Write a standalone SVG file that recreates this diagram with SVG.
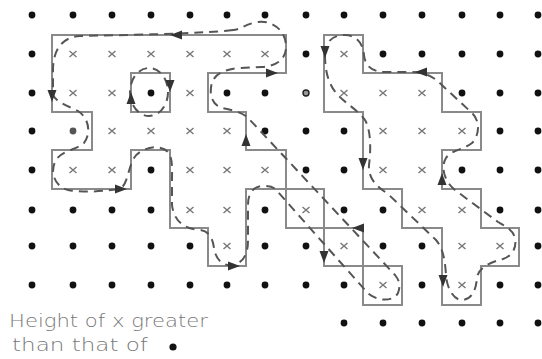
<svg xmlns="http://www.w3.org/2000/svg" width="542" height="359" viewBox="0 0 542 359">
<defs>
<style>
.d{fill:#111}
.g{fill:#555}
.x{stroke:#777;stroke-width:1.4;fill:none}
.o{fill:none;stroke:#8a8a8a;stroke-width:2;stroke-linejoin:miter}
.c{fill:none;stroke:#555;stroke-width:2;stroke-dasharray:9 6}
.ah{fill:#333}
.t{font-family:'DejaVu Sans','Liberation Sans',sans-serif;font-size:18px;fill:#777;font-weight:200}
</style>
<path id="a" d="M0,0 L-12,-4.5 L-12,4.5 Z"/>
<path id="xm" d="M-3.5,-3 L3.5,3 M-3.5,3 L3.5,-3"/>
<circle id="dt" r="3.4"/>
</defs>
<rect width="542" height="359" fill="#fff"/>

<g id="grid">
<!-- row 0 -->
<g class="d">
<use href="#dt" x="32" y="15"/><use href="#dt" x="73" y="15"/><use href="#dt" x="112" y="15"/><use href="#dt" x="151" y="15"/><use href="#dt" x="190" y="15"/><use href="#dt" x="227" y="15"/><use href="#dt" x="265" y="15"/><use href="#dt" x="306" y="15"/><use href="#dt" x="344" y="15"/><use href="#dt" x="383" y="15"/><use href="#dt" x="422" y="15"/><use href="#dt" x="462" y="15"/><use href="#dt" x="500" y="15"/><use href="#dt" x="538" y="15"/>
<!-- row 1 -->
<use href="#dt" x="32" y="54"/><use href="#dt" x="306" y="54"/><use href="#dt" x="383" y="54"/><use href="#dt" x="422" y="54"/><use href="#dt" x="462" y="54"/><use href="#dt" x="500" y="54"/><use href="#dt" x="538" y="54"/>
<!-- row 2 -->
<use href="#dt" x="32" y="93"/><use href="#dt" x="151" y="93"/><use href="#dt" x="227" y="93"/><use href="#dt" x="265" y="93"/><use href="#dt" x="462" y="93"/><use href="#dt" x="500" y="93"/><use href="#dt" x="538" y="93"/>
<!-- row 3 -->
<use href="#dt" x="32" y="131"/><use href="#dt" x="265" y="131"/><use href="#dt" x="306" y="131"/><use href="#dt" x="344" y="131"/><use href="#dt" x="500" y="131"/><use href="#dt" x="538" y="131"/>
<!-- row 4 -->
<use href="#dt" x="32" y="170"/><use href="#dt" x="151" y="170"/><use href="#dt" x="306" y="170"/><use href="#dt" x="344" y="170"/><use href="#dt" x="462" y="170"/><use href="#dt" x="500" y="170"/><use href="#dt" x="538" y="170"/>
<!-- row 5 -->
<use href="#dt" x="32" y="210"/><use href="#dt" x="73" y="210"/><use href="#dt" x="112" y="210"/><use href="#dt" x="151" y="210"/><use href="#dt" x="265" y="210"/><use href="#dt" x="344" y="210"/><use href="#dt" x="383" y="210"/><use href="#dt" x="500" y="210"/><use href="#dt" x="538" y="210"/>
<!-- row 6 -->
<use href="#dt" x="32" y="246"/><use href="#dt" x="73" y="246"/><use href="#dt" x="112" y="246"/><use href="#dt" x="151" y="246"/><use href="#dt" x="190" y="246"/><use href="#dt" x="265" y="246"/><use href="#dt" x="306" y="246"/><use href="#dt" x="383" y="246"/><use href="#dt" x="422" y="246"/><use href="#dt" x="538" y="246"/>
<!-- row 7 -->
<use href="#dt" x="32" y="285"/><use href="#dt" x="73" y="285"/><use href="#dt" x="112" y="285"/><use href="#dt" x="151" y="285"/><use href="#dt" x="190" y="285"/><use href="#dt" x="227" y="285"/><use href="#dt" x="265" y="285"/><use href="#dt" x="306" y="285"/><use href="#dt" x="344" y="285"/><use href="#dt" x="422" y="285"/><use href="#dt" x="500" y="285"/><use href="#dt" x="538" y="285"/>
<!-- row 8 -->
<use href="#dt" x="344" y="323"/><use href="#dt" x="383" y="323"/><use href="#dt" x="422" y="323"/><use href="#dt" x="462" y="323"/><use href="#dt" x="500" y="323"/><use href="#dt" x="538" y="323"/>
</g>
<use href="#dt" class="g" x="73" y="131"/>
<circle cx="306" cy="93" r="3" fill="#999" stroke="#222" stroke-width="1.4"/>
<g class="x">
<use href="#xm" x="73" y="54"/><use href="#xm" x="112" y="54"/><use href="#xm" x="151" y="54"/><use href="#xm" x="190" y="54"/><use href="#xm" x="227" y="54"/><use href="#xm" x="265" y="54"/><use href="#xm" x="344" y="54"/>
<use href="#xm" x="73" y="93"/><use href="#xm" x="112" y="93"/><use href="#xm" x="190" y="93"/><use href="#xm" x="344" y="93"/><use href="#xm" x="383" y="93"/><use href="#xm" x="422" y="93"/>
<use href="#xm" x="112" y="131"/><use href="#xm" x="151" y="131"/><use href="#xm" x="190" y="131"/><use href="#xm" x="227" y="131"/><use href="#xm" x="383" y="131"/><use href="#xm" x="422" y="131"/><use href="#xm" x="462" y="131"/>
<use href="#xm" x="73" y="170"/><use href="#xm" x="112" y="170"/><use href="#xm" x="190" y="170"/><use href="#xm" x="227" y="170"/><use href="#xm" x="265" y="170"/><use href="#xm" x="383" y="170"/><use href="#xm" x="422" y="170"/>
<use href="#xm" x="190" y="210"/><use href="#xm" x="227" y="210"/><use href="#xm" x="306" y="210"/><use href="#xm" x="422" y="210"/><use href="#xm" x="462" y="210"/>
<use href="#xm" x="227" y="246"/><use href="#xm" x="344" y="246"/><use href="#xm" x="462" y="246"/><use href="#xm" x="500" y="246"/>
<use href="#xm" x="383" y="285"/><use href="#xm" x="462" y="285"/>
</g>
</g>

<g id="outlines" class="o">
<path id="regionA" d="M52,35 H286 V73 H208 V112 H246 V150 H286 V189 H246 V266 H208 V228 H170 V150 H131 V189 H52 V150 H92 V112 H52 Z"/>
<rect id="holeA" x="131" y="73" width="39" height="39"/>
<g id="regionB">
<rect x="286" y="189" width="38" height="39"/>
<rect x="324" y="228" width="39" height="38"/>
<rect x="363" y="266" width="39" height="39"/>
</g>
<path id="regionC" d="M324,35 H363 V73 H442 V112 H481 V150 H442 V189 H481 V228 H519 V266 H481 V305 H442 V228 H402 V189 H363 V112 H324 Z"/>
</g>

<g id="contours" class="c">
<path d="M233,30 C200,34 120,35 80,36 C62,37 53,50 53,70 L53,95 C56,102 68,106 78,111 C88,117 92,132 84,143 C77,150 62,150 56,160 C50,170 53,186 68,190 C85,193 105,191 120,189 C128,184 128,168 134,158 C140,148 160,143 168,152 C173,158 172,170 172,180 L172,205 C174,222 185,229 200,230 C210,231 213,240 214,248 C216,262 226,268 236,264 C246,260 248,250 248,240 L248,205 C248,190 256,186 264,186 C272,186 275,188 278,192 L365,290 C372,300 392,304 398,293 C401,285 399,280 395,275 L250,120 C245,113 232,110 222,108 C212,105 210,95 211,88 C212,75 222,70 238,68 L262,67 C278,66 287,58 286,45 C285,30 272,20 258,22 C245,24 240,30 233,30 Z"/>
<ellipse cx="149" cy="92" rx="19" ry="24"/>
<path d="M325,55 C325,70 328,85 338,95 C345,103 358,110 365,120 C371,130 371,150 369,165 C368,178 376,186 388,194 L436,240 C443,248 445,260 446,275 C447,290 455,301 463,300 C472,299 476,290 477,278 C478,268 490,262 503,259 C512,256 517,248 515,238 C513,230 505,226 498,222 L455,190 C445,182 440,168 446,158 C451,150 465,149 472,143 C480,135 480,120 472,113 L445,88 C435,78 428,72 410,72 L385,72 C372,72 365,66 364,55 C363,42 355,35 345,35 C332,35 325,42 325,55 Z"/>
</g>

<g id="arrows" class="ah">
<use href="#a" transform="translate(170,35) rotate(180)"/>
<use href="#a" transform="translate(52,102) rotate(90)"/>
<use href="#a" transform="translate(127,189)"/>
<use href="#a" transform="translate(278,73)"/>
<use href="#a" transform="translate(246,134) rotate(-90)"/>
<use href="#a" transform="translate(240,266)"/>
<use href="#a" transform="translate(352,228) rotate(180)"/>
<use href="#a" transform="translate(324,263) rotate(90)"/>
<use href="#a" transform="translate(325,58) rotate(90)"/>
<use href="#a" transform="translate(415,72) rotate(180)"/>
<use href="#a" transform="translate(363,170) rotate(90)"/>
<use href="#a" transform="translate(442,173) rotate(-90)"/>
<use href="#a" transform="translate(443,287) rotate(90)"/>
<use href="#a" transform="translate(131,92) rotate(-90)"/>
<use href="#a" transform="translate(170,92) rotate(90)"/>
</g>

<g id="legend">
<text class="t" x="9" y="327" textLength="199" lengthAdjust="spacingAndGlyphs">Height of x greater</text>
<text class="t" x="12" y="351" textLength="136" lengthAdjust="spacingAndGlyphs">than that of</text>
<circle class="d" cx="173" cy="347" r="3.6"/>
</g>
</svg>
